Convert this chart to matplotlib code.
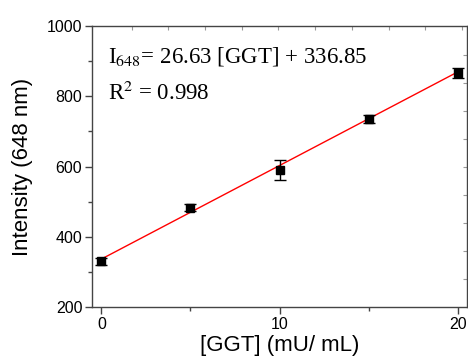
import matplotlib
matplotlib.use("Agg")
import matplotlib.pyplot as plt
import numpy as np


# measured data
ggt = [0, 5, 10, 15, 20]
intensity = [331, 483, 590, 735, 866]
err = [10, 10, 28, 12, 14]

# linear fit reported on the chart
slope = 26.63
intercept = 336.85

xticks = [0, 10, 20]
yticks = [200, 400, 600, 800, 1000]


def main():

    fig = plt.figure(figsize=(4.68, 3.63), dpi=100)
    ax = fig.add_axes([0.1966, 0.154, 0.8014, 0.774])

    #-------------------------------------------------------------------------
    # fit line and data

    xf = np.array([ggt[0], ggt[-1]])
    ax.plot(xf, slope * xf + intercept, color='red', lw=1.0, zorder=2)

    ax.errorbar(ggt, intensity, yerr=err, fmt='s', color='black',
                ms=5.5, capsize=4, elinewidth=1.0, capthick=1.0, zorder=3)

    #-------------------------------------------------------------------------
    # axes

    ax.set_xlim(-0.53, 20.53)
    ax.set_ylim(200, 1000)
    ax.set_xticks(xticks)
    ax.set_yticks(yticks)
    ax.set_xticks([5, 15], minor=True)
    ax.set_yticks([300, 500, 700, 900], minor=True)

    for sp in ax.spines.values():
        sp.set_color('#444444')
        sp.set_linewidth(1.0)

    ax.tick_params(which='major', direction='out', length=5, width=1,
                   color='#444444', labelsize=11.5, pad=2)
    ax.tick_params(which='minor', direction='out', length=3, width=1,
                   color='#444444')
    for lab in ax.get_xticklabels() + ax.get_yticklabels():
        lab.set_family('Liberation Sans')

    top = ax.secondary_xaxis('top')
    top.set_xticks([1.7 + 2.06 * k for k in range(10)])
    top.tick_params(direction='in', length=3, width=0.8, color='#999999',
                    labeltop=False)
    top.spines['top'].set_visible(False)

    right = ax.secondary_yaxis('right')
    right.set_yticks([919 - 80 * k for k in range(9)])
    right.tick_params(direction='in', length=3, width=0.8, color='#999999',
                      labelright=False)
    right.spines['right'].set_visible(False)

    ax.set_xlabel('[GGT] (mU/ mL)', family='Liberation Sans', fontsize=16,
                  labelpad=2)
    ax.set_ylabel('Intensity (648 nm)', family='Liberation Sans', fontsize=16,
                  labelpad=10)

    #-------------------------------------------------------------------------
    # equation text

    ax.text(0.043, 0.872, r'I$_{648}$= 26.63 [GGT] + 336.85',
            transform=ax.transAxes, family='Liberation Serif', fontsize=16.5,
            math_fontfamily='stix')
    ax.text(0.043, 0.737, r'R$^{2}$ = 0.998',
            transform=ax.transAxes, family='Liberation Serif', fontsize=16.5,
            math_fontfamily='stix')

    fig.savefig('out.png', dpi=100)


if __name__ == "__main__":
    main()
